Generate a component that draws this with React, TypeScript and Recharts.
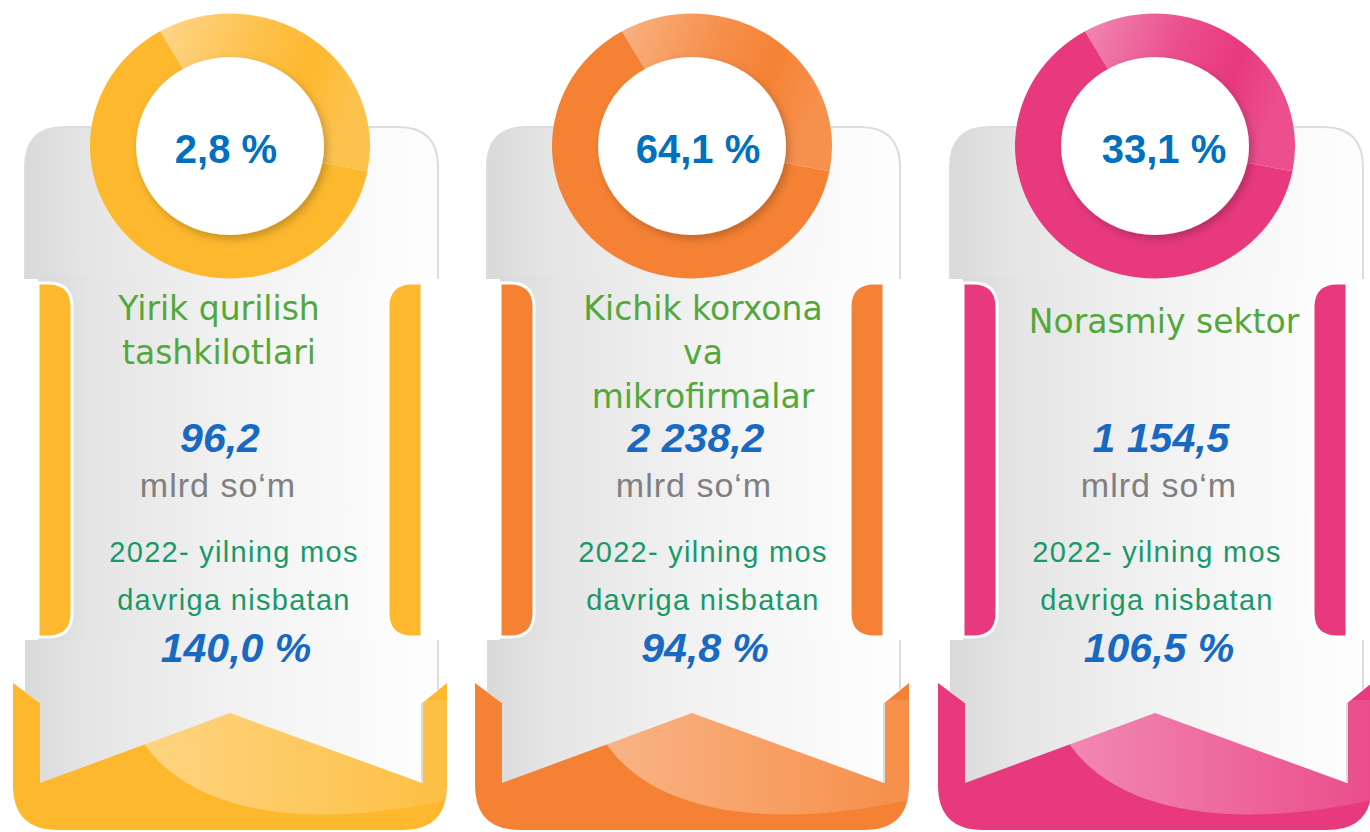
import React from 'react';
import { PieChart, Pie, Cell } from 'recharts';

// Data
const titleLines = [
  ['Yirik qurilish', 'tashkilotlari'],
  ['Kichik korxona', 'va', 'mikrofirmalar'],
  ['Norasmiy sektor'],
];
const shares = [2.8, 64.1, 33.1]; // % of total
const volumes = [96.2, 2238.2, 1154.5]; // mlrd so'm
const growth = [140.0, 94.8, 106.5]; // % vs 2022
const unitLabel = 'mlrd so‘m';
const compareLines = ['2022- yilning mos', 'davriga nisbatan'];

// decorative ring: highlight arc + rest (degrees)
const ringArc = [
  { name: 'highlight', value: 131 },
  { name: 'base', value: 229 },
];

// Theme
const BASE = ['#FDB82E', '#F58234', '#E8397E'];
const LIGHT = ['#FED68C', '#F9B384', '#F18AB3'];
const MID = ['#FDC24E', '#F6904D', '#EB4F8E'];
const OFFSET = [0, 462, 925];
// text centres per card: ring, title, value, comparison
const TX = [
  [226, 219, 220, 234],
  [698, 703, 696, 703],
  [1164, 1164, 1161, 1157],
];

const fmt = (v: number) => {
  const [i, d] = v.toFixed(1).split('.');
  return i.replace(/\B(?=(\d{3})+(?!\d))/g, ' ') + ',' + d;
};

const RING_CX = 230;
const RING_CY = 146;
const OUTER = 140;
const INNER = 94;
const SQUASH = 0.946;

const Card: React.FC<{ i: number }> = ({ i }) => {
  const c = BASE[i];
  return (
    <g transform={`translate(${OFFSET[i]},0)`}>
      {/* top section */}
      <path d="M25,279 L25,167 Q25,127 65,127 L398,127 Q438,127 438,167 L438,279 Z" fill="url(#grayGrad)" />
      <path d="M25,279 L25,167 Q25,127 65,127 L398,127 Q438,127 438,167 L438,279" fill="none" stroke="#dcdcdc" strokeWidth={2} />
      {/* body */}
      <rect x={38} y={276} width={384} height={368} fill="url(#grayGrad)" />
      {/* side bars */}
      <path d="M38,283 L48,283 Q72,283 72,307 L72,613 Q72,637 48,637 L38,637 Z" fill={c} stroke="#fff" strokeWidth={3} />
      <path d="M422,283 L412,283 Q388,283 388,307 L388,613 Q388,637 412,637 L422,637 Z" fill={c} stroke="#fff" strokeWidth={3} />
      {/* bottom ribbon */}
      <path d="M13,683 L40,703 L422,703 L447,683 L447,785 Q447,830 402,830 L58,830 Q13,830 13,785 Z" fill={c} />
      <path d="M145,745 C200,822 330,826 447,800 L447,700 L145,700 Z" fill={`url(#ribbonHl${i})`} />
      {/* lower flap */}
      <path d="M25,640 L438,640 L438,690 L422,703 L422,783 L230,713 L40,783 L40,703 L25,692 Z" fill="url(#grayGrad)" />
      <path d="M438,640 L438,690 M422,703 L422,783" fill="none" stroke="#dcdcdc" strokeWidth={2} />
    </g>
  );
};

const Ring: React.FC<{ i: number }> = ({ i }) => {
  const size = OUTER * 2 + 6;
  return (
    <div
      style={{
        position: 'absolute',
        left: RING_CX + OFFSET[i] - size / 2,
        top: RING_CY - size / 2,
        width: size,
        height: size,
        transform: `scaleY(${SQUASH})`,
      }}
    >
      <PieChart width={size} height={size} margin={{ top: 0, right: 0, bottom: 0, left: 0 }}>
        <Pie
          data={ringArc}
          dataKey="value"
          cx="50%"
          cy="50%"
          innerRadius={INNER - 2}
          outerRadius={OUTER}
          startAngle={120}
          endAngle={-240}
          stroke="none"
          isAnimationActive={false}
        >
          <Cell key="hl" fill={`url(#ringHl${i})`} />
          <Cell key="base" fill={BASE[i]} />
        </Pie>
      </PieChart>
    </div>
  );
};

const CardText: React.FC<{ i: number }> = ({ i }) => {
  const dx = OFFSET[i];
  const [rx, tx, vx, cx] = TX[i];
  const lines = titleLines[i];
  const start = lines.length === 1 ? 333 : 320;
  return (
    <g>
      <ellipse
        cx={RING_CX + dx}
        cy={RING_CY}
        rx={INNER}
        ry={INNER * SQUASH}
        fill="#fff"
        filter="url(#discShadow)"
      />
      <text x={rx} y={163} textAnchor="middle" fontFamily="'Liberation Sans', Arial, sans-serif" fontWeight="bold" fontSize={40} fill="#0070C0">
        {fmt(shares[i])} %
      </text>
      {lines.map((l, k) => (
        <text key={k} x={tx} y={start + k * 44} textAnchor="middle" fontFamily="'DejaVu Sans', sans-serif" fontSize={33} fill="#52A83A">
          {l}
        </text>
      ))}
      <text x={vx} y={452} textAnchor="middle" fontFamily="'Liberation Sans', Arial, sans-serif" fontWeight="bold" fontStyle="italic" fontSize={41} fill="#1769C4">
        {fmt(volumes[i])}
      </text>
      <text x={vx - 2} y={497} textAnchor="middle" fontFamily="'Liberation Sans', Arial, sans-serif" fontSize={34} letterSpacing={1} fill="#808080">
        {unitLabel}
      </text>
      {compareLines.map((l, k) => (
        <text key={k} x={cx} y={562 + k * 48} textAnchor="middle" fontFamily="'Liberation Sans', Arial, sans-serif" fontSize={29} letterSpacing={1.3} fill="#179A68">
          {l}
        </text>
      ))}
      <text x={cx + 2} y={662} textAnchor="middle" fontFamily="'Liberation Sans', Arial, sans-serif" fontWeight="bold" fontStyle="italic" fontSize={41} fill="#1769C4">
        {fmt(growth[i])} %
      </text>
    </g>
  );
};

export default function App() {
  return (
    <div style={{ position: 'absolute', left: 0, top: 0, width: 1370, height: 832, background: '#fff', overflow: 'hidden' }}>
      <svg width={1370} height={832} style={{ position: 'absolute', left: 0, top: 0 }}>
        <defs>
          <linearGradient id="grayGrad" x1="0" y1="0" x2="1" y2="0">
            <stop offset="0%" stopColor="#D9D9D9" />
            <stop offset="15%" stopColor="#E5E5E5" />
            <stop offset="55%" stopColor="#F3F3F3" />
            <stop offset="100%" stopColor="#FEFEFE" />
          </linearGradient>
          {BASE.map((c, i) => (
            <linearGradient key={`r${i}`} id={`ringHl${i}`} x1="0" y1="0" x2="1" y2="0.3">
              <stop offset="0%" stopColor={LIGHT[i]} />
              <stop offset="45%" stopColor={MID[i]} />
              <stop offset="75%" stopColor={c} />
              <stop offset="100%" stopColor={MID[i]} />
            </linearGradient>
          ))}
          {BASE.map((c, i) => (
            <linearGradient key={`b${i}`} id={`ribbonHl${i}`} x1="0" y1="0" x2="1" y2="0">
              <stop offset="0%" stopColor="#fff" stopOpacity={0.4} />
              <stop offset="100%" stopColor="#fff" stopOpacity={0.1} />
            </linearGradient>
          ))}
        </defs>
        {BASE.map((_, i) => (
          <Card key={i} i={i} />
        ))}
      </svg>
      {BASE.map((_, i) => (
        <Ring key={i} i={i} />
      ))}
      <svg width={1370} height={832} style={{ position: 'absolute', left: 0, top: 0 }}>
        <defs>
          <filter id="discShadow" x="-20%" y="-20%" width="140%" height="140%">
            <feDropShadow dx={3} dy={4} stdDeviation={4} floodColor="#000" floodOpacity={0.22} />
          </filter>
        </defs>
        {BASE.map((_, i) => (
          <CardText key={i} i={i} />
        ))}
      </svg>
    </div>
  );
}
